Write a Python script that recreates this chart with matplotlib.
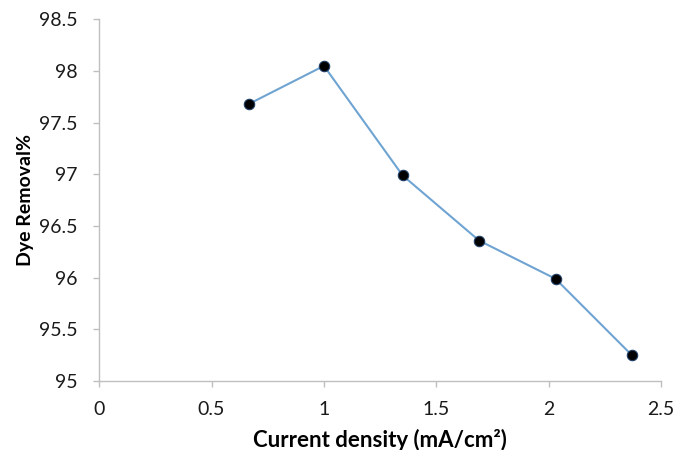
import matplotlib
matplotlib.use("Agg")
import matplotlib.pyplot as plt

# values
current_density = [0.665, 1.0, 1.35, 1.69, 2.03, 2.37]
dye_removal = [97.68, 98.05, 96.99, 96.36, 95.99, 95.25]

x_ticks = [0, 0.5, 1, 1.5, 2, 2.5]
x_tick_labels = ["0", "0.5", "1", "1.5", "2", "2.5"]
y_ticks = [95, 95.5, 96, 96.5, 97, 97.5, 98, 98.5]
y_tick_labels = ["95", "95.5", "96", "96.5", "97", "97.5", "98", "98.5"]

plt.rcParams["font.family"] = ["Lato", "DejaVu Sans"]

fig = plt.figure(figsize=(6.74, 4.5), dpi=100)
ax = fig.add_axes([0.147, 0.153, 0.834, 0.804])

ax.plot(current_density, dye_removal, color="#6FA4D2", linewidth=1.5,
        marker="o", markersize=7.5, markerfacecolor="black",
        markeredgecolor="#1F3D66", markeredgewidth=0.8)

ax.set_xlim(0, 2.5)
ax.set_ylim(95, 98.5)
ax.set_xticks(x_ticks)
ax.set_xticklabels(x_tick_labels)
ax.set_yticks(y_ticks)
ax.set_yticklabels(y_tick_labels)

for side in ["top", "right"]:
    ax.spines[side].set_visible(False)
for side in ["left", "bottom"]:
    ax.spines[side].set_color("#BFBFBF")
    ax.spines[side].set_linewidth(1.0)

ax.tick_params(axis="both", direction="out", length=4.3, width=1.0,
               color="#BFBFBF", labelsize=14, labelcolor="#1a1a1a")
ax.tick_params(axis="y", pad=11)
ax.tick_params(axis="x", pad=10)

ax.set_xlabel("Current density (mA/cm\u00b2)", fontsize=16, fontweight="bold",
              labelpad=8)
ax.set_ylabel("Dye Removal%", fontsize=14, fontweight="bold", labelpad=4)

fig.savefig("out.png", dpi=100)
